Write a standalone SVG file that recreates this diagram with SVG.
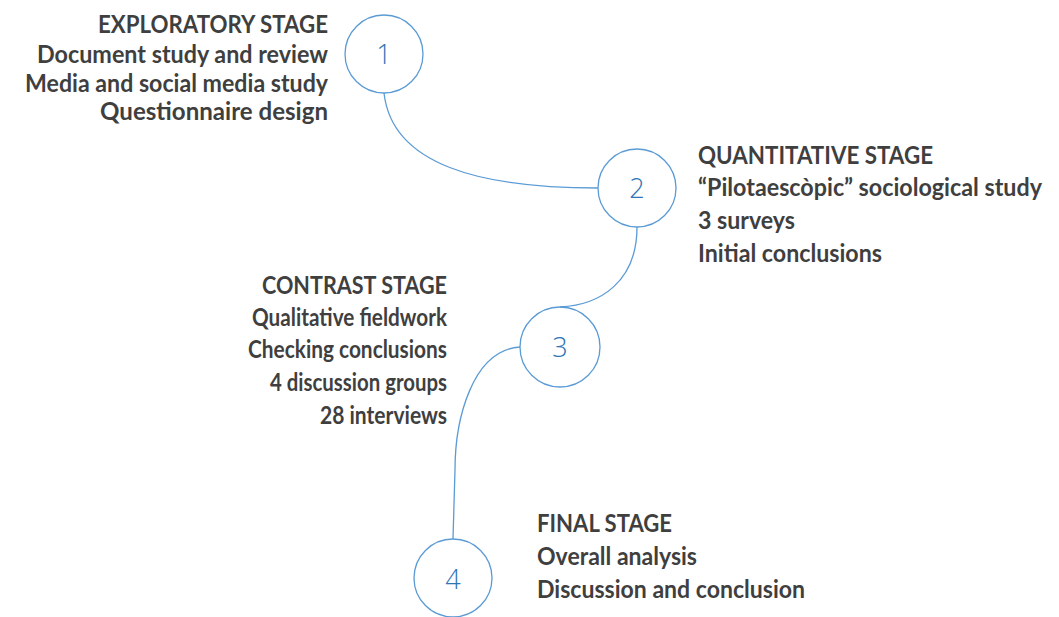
<svg xmlns="http://www.w3.org/2000/svg" width="1059" height="617" viewBox="0 0 1059 617">
<style>
.bg{fill:#ffffff}
.lbl{font-family:Lato,"Open Sans","Liberation Sans",sans-serif;font-weight:700;font-size:24px;fill:#3f3f3f}
.r{text-anchor:end}
.circ{fill:none;stroke:#5b9bd5;stroke-width:1.3}
.num{font-family:"Open Sans","Liberation Sans",sans-serif;font-weight:300;font-size:27px;fill:#2e75b6;text-anchor:middle}
.conn{fill:none;stroke:#5b9bd5;stroke-width:1.3}
</style>
<rect class="bg" x="0" y="0" width="1059" height="617"/>
<g id="connectors">
<path class="conn" d="M384,93 C392,165 480,188 598,188"/>
<path class="conn" d="M637,227 C637,282 600,305 560,307"/>
<path class="conn" d="M520,347 C472,350 455,420 455,470 L453,539"/>
</g>
<g id="node1">
<circle class="circ" cx="384" cy="54" r="39"/>
<text class="num" x="384" y="64">1</text>
<text class="lbl r" x="328" y="33" textLength="230" lengthAdjust="spacingAndGlyphs">EXPLORATORY STAGE</text>
<text class="lbl r" x="328" y="63" textLength="291" lengthAdjust="spacingAndGlyphs">Document study and review</text>
<text class="lbl r" x="328" y="92" textLength="303" lengthAdjust="spacingAndGlyphs">Media and social media study</text>
<text class="lbl r" x="328" y="120" textLength="228" lengthAdjust="spacingAndGlyphs">Questionnaire design</text>
</g>
<g id="node2">
<circle class="circ" cx="637" cy="188" r="39"/>
<text class="num" x="637" y="198">2</text>
<text class="lbl" x="698" y="164" textLength="235" lengthAdjust="spacingAndGlyphs">QUANTITATIVE STAGE</text>
<text class="lbl" x="698" y="196" textLength="344" lengthAdjust="spacingAndGlyphs">“Pilotaescòpic” sociological study</text>
<text class="lbl" x="698" y="229" textLength="97" lengthAdjust="spacingAndGlyphs">3 surveys</text>
<text class="lbl" x="698" y="262" textLength="184" lengthAdjust="spacingAndGlyphs">Initial conclusions</text>
</g>
<g id="node3">
<circle class="circ" cx="560" cy="347" r="40"/>
<text class="num" x="560" y="357">3</text>
<text class="lbl r" x="447" y="294" textLength="185" lengthAdjust="spacingAndGlyphs">CONTRAST STAGE</text>
<text class="lbl r" x="447" y="326" textLength="195" lengthAdjust="spacingAndGlyphs">Qualitative fieldwork</text>
<text class="lbl r" x="447" y="358" textLength="199" lengthAdjust="spacingAndGlyphs">Checking conclusions</text>
<text class="lbl r" x="447" y="391" textLength="177" lengthAdjust="spacingAndGlyphs">4 discussion groups</text>
<text class="lbl r" x="447" y="424" textLength="127" lengthAdjust="spacingAndGlyphs">28 interviews</text>
</g>
<g id="node4">
<circle class="circ" cx="453" cy="578" r="39"/>
<text class="num" x="453" y="589">4</text>
<text class="lbl" x="537" y="532" textLength="135" lengthAdjust="spacingAndGlyphs">FINAL STAGE</text>
<text class="lbl" x="537" y="565" textLength="160" lengthAdjust="spacingAndGlyphs">Overall analysis</text>
<text class="lbl" x="537" y="598" textLength="268" lengthAdjust="spacingAndGlyphs">Discussion and conclusion</text>
</g>
</svg>
